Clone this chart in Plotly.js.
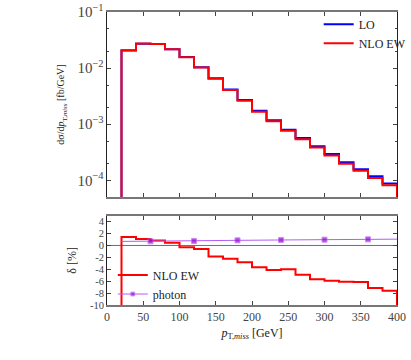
<!DOCTYPE html>
<html>
<head>
<meta charset="utf-8">
<script src="https://cdn.plot.ly/plotly-3.0.1.min.js"></script>
<style>
  html, body { margin:0; padding:0; background:#fff; }
  #grafica { width:411px; height:360px; }
</style>
</head>
<body>
<div id="grafica"></div>
<script>
// bin edges in pT,miss [GeV]
const bordes = [20,40,60,80,100,120,140,160,180,200,220,240,260,280,300,320,340,360,380,400];

// dsigma/dpT [fb/GeV]
const sigmaLO = [0.0206,0.0271,0.0268,0.0216,0.0157,0.01035,0.00657,0.00416,0.00271,0.00173,
                 0.00118,0.000800,0.000568,0.000407,0.000294,0.000210,0.000158,0.000118,0.0000880];
const sigmaNLO = [0.0209,0.0274,0.0270,0.0217,0.01565,0.0103,0.00645,0.00407,0.00263,0.00167,
                  0.00113,0.000768,0.000540,0.000384,0.000277,0.000197,0.000148,0.000110,0.0000815];

// relative corrections [%]
const deltaEW = [1.42,1.08,0.85,0.46,-0.32,-0.58,-1.85,-2.22,-2.83,-3.67,
                 -4.12,-4.01,-4.90,-5.69,-5.91,-6.08,-6.14,-7.14,-7.59];
const fotonX = [20,60,120,180,240,300,360,400];
const fotonY = [0.68,0.70,0.75,0.86,0.92,0.97,1.03,1.06];
const fotonMarca = [0,5,5,5,5,5,5,0];

const suelo = 1e-7;

function escalon(vals, base){
    // step outline closed down to the base at both ends
    const x = [bordes[0]].concat(bordes, [bordes[bordes.length-1]]);
    const y = [base].concat(vals, [vals[vals.length-1], base]);
    return {x:x, y:y};
}

const sLO = escalon(sigmaLO, suelo);
const sNLO = escalon(sigmaNLO, suelo);
const sEW = escalon(deltaEW, -20);

const fuente = 'Liberation Serif, Times New Roman, serif';

const traces = [
    {
        x: sLO.x, y: sLO.y,
        mode:'lines', name:'LO',
        line:{shape:'hv', color:'#0000ff', width:2},
        xaxis:'x', yaxis:'y', legend:'legend'
    },
    {
        x: sNLO.x, y: sNLO.y,
        mode:'lines', name:'NLO EW',
        line:{shape:'hv', color:'#ff0000', width:2},
        xaxis:'x', yaxis:'y', legend:'legend'
    },
    {
        x:[0,400], y:[0,0],
        mode:'lines', showlegend:false, hoverinfo:'skip',
        line:{color:'#5a5aff', width:1},
        xaxis:'x2', yaxis:'y2'
    },
    {
        x: sEW.x, y: sEW.y,
        mode:'lines', name:'NLO EW',
        line:{shape:'hv', color:'#ff0000', width:2},
        xaxis:'x2', yaxis:'y2', legend:'legend2'
    },
    {
        x: fotonX, y: fotonY,
        mode:'lines+markers', name:'photon',
        line:{color:'#b45cf0', width:1},
        marker:{symbol:'square', color:'#9400d3', size:fotonMarca},
        xaxis:'x2', yaxis:'y2', legend:'legend2'
    }
];

const ejeX = {
    range:[0,400],
    ticks:'inside', ticklen:4, tickcolor:'#444',
    showline:true, linecolor:'#777', linewidth:2, mirror:'ticks',
    showgrid:false, zeroline:false,
    dtick:50, tick0:0
};

const layout = {
    width:411, height:360,
    margin:{l:107, r:14, t:12, b:55, autoexpand:false},
    paper_bgcolor:'#ffffff',
    plot_bgcolor:'#ffffff',
    font:{family:fuente, size:12, color:'#222'},
    xaxis: Object.assign({}, ejeX, {
        domain:[0,1], anchor:'y', showticklabels:false
    }),
    yaxis:{
        domain:[0.3686,1], anchor:'x',
        type:'log', range:[-4.297,-1],
        dtick:1, exponentformat:'power',
        ticks:'inside', ticklen:4, tickcolor:'#444',
        minor:{dtick:'D2', ticks:'inside', ticklen:2, tickcolor:'#444', showgrid:false},
        showline:true, linecolor:'#222', linewidth:1, mirror:'ticks',
        showgrid:false, zeroline:false,
        tickfont:{size:12, color:'#444'},
        title:{
            text:'dσ/d<i>p</i><sub>T,<i>miss</i></sub> [fb/GeV]',
            font:{size:10, color:'#222'},
            standoff:10
        }
    },
    xaxis2: Object.assign({}, ejeX, {
        domain:[0,1], anchor:'y2',
        tickfont:{size:12, color:'#444'},
        title:{
            text:'<i>p</i><sub>T,<i>miss</i></sub> [GeV]',
            font:{size:12, color:'#222'},
            standoff:5
        }
    }),
    yaxis2:{
        domain:[0,0.3048], anchor:'x2',
        range:[-10,5],
        tickvals:[-10,-8,-6,-4,-2,0,2,4],
        ticktext:['-10','-8','-6','-4','-2','0','2','4'],
        ticks:'inside', ticklen:4, tickcolor:'#444',
        showline:true, linecolor:'#222', linewidth:1, mirror:'ticks',
        showgrid:false, zeroline:false,
        tickfont:{size:10.5, color:'#444'},
        title:{
            text:'δ [%]',
            font:{size:12, color:'#222'},
            standoff:10
        }
    },
    legend:{
        x:0.73, y:1.008, xanchor:'left', yanchor:'top',
        bgcolor:'rgba(0,0,0,0)',
        font:{size:12, color:'#222'},
        tracegroupgap:0
    },
    legend2:{
        x:0.02, y:-0.012, xanchor:'left', yanchor:'bottom',
        bgcolor:'rgba(0,0,0,0)',
        font:{size:12, color:'#222'},
        tracegroupgap:0
    },
    showlegend:true
};

Plotly.newPlot('grafica', traces, layout, {displayModeBar:false, staticPlot:true});
</script>
</body>
</html>
